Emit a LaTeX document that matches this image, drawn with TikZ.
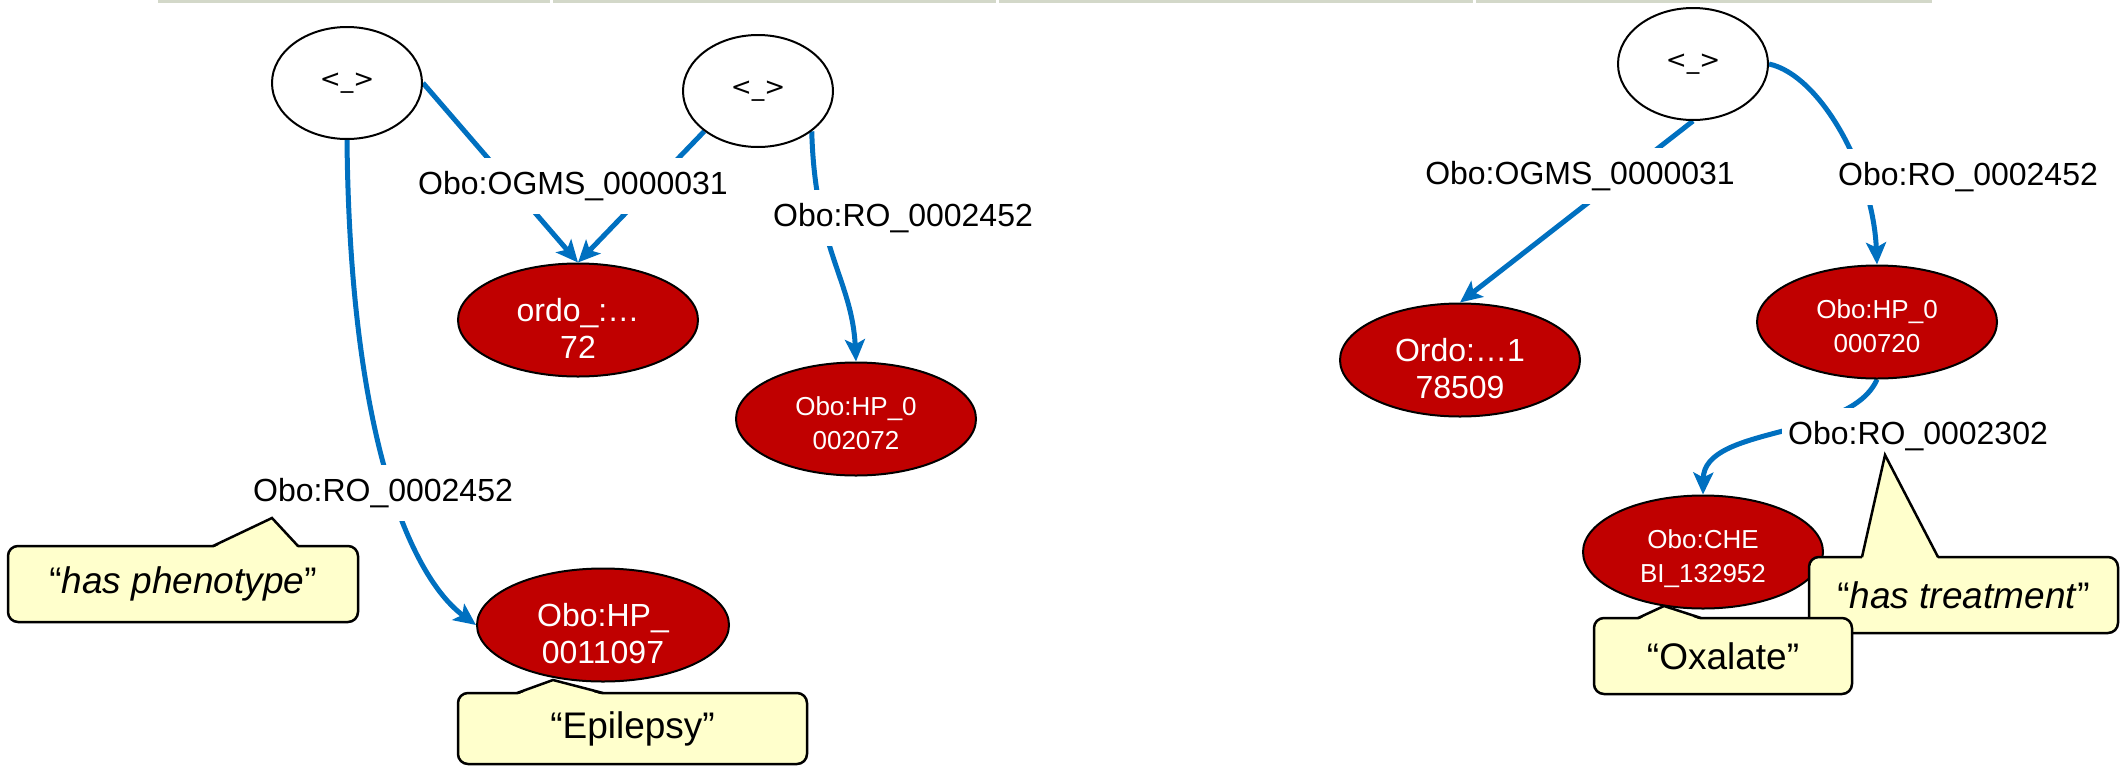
\documentclass[tikz,border=0pt]{standalone}
\usepackage{fontspec}
\setmainfont{Liberation Sans}
\newfontfamily\symfont{DejaVu Sans}
\usetikzlibrary{shapes.geometric, arrows.meta, backgrounds}
\definecolor{linkblue}{HTML}{0070C0}
\definecolor{termred}{HTML}{C00000}
\definecolor{notefill}{HTML}{FFFFCC}
\definecolor{rulegrey}{RGB}{211,216,201}

\begin{document}
\begin{tikzpicture}[x=1pt, y=-1pt,
  blank/.style={ellipse, draw=black, line width=2pt, fill=white,
    minimum width=150pt, minimum height=112pt, inner sep=0pt,
    font=\symfont\fontsize{25}{30}\selectfont},
  term/.style={ellipse, draw=black, line width=2pt, fill=termred, text=white,
    minimum width=240pt, minimum height=113pt, inner sep=0pt, align=center},
  bigterm/.style={term, font=\fontsize{32}{37}\selectfont,
    text height=76pt, text depth=0pt},
  smallterm/.style={term, font=\fontsize{26}{34}\selectfont,
    text height=60pt, text depth=0pt},
  prop/.style={fill=white, font=\fontsize{32}{38}\selectfont,
    inner xsep=6pt, inner ysep=13pt},
  link/.style={draw=linkblue, line width=5pt,
    -{Stealth[length=22pt, width=20pt, inset=5pt]}},
  note/.style={draw=black, line width=2.5pt, fill=notefill,
    rounded corners=10pt, inner sep=0pt, outer sep=0pt,
    font=\fontsize{37}{44}\selectfont},
  pointer/.style={draw=black, line width=2.5pt, line join=miter},
]
\useasboundingbox (0,0) rectangle (2121,766);

% ruled strip along the top edge
\fill[rulegrey] (158,0) rectangle (550,3);
\fill[rulegrey] (553,0) rectangle (996,3);
\fill[rulegrey] (999,0) rectangle (1473,3);
\fill[rulegrey] (1476,0) rectangle (1932,3);

% blank nodes
\node[blank] (b1) at (347,83) {<\_>};
\node[blank] (b2) at (758,91) {<\_>};
\node[blank] (b3) at (1693,64) {<\_>};

% resources
\node[bigterm]   (ordo72)  at (578,320)  {ordo\_:…\\72};
\node[smallterm] (hp2072)  at (856,419)  {Obo:HP\_0\\002072};
\node[bigterm, minimum width=252pt] (hp11097) at (603,625) {Obo:HP\_\\0011097};
\node[bigterm]   (ordo509) at (1460,360) {Ordo:…1\\78509};
\node[smallterm] (hp720)   at (1877,322) {Obo:HP\_0\\000720};
\node[smallterm] (chebi)   at (1703,552) {Obo:CHE\\BI\_132952};

% property labels
\node[prop] (ogmsA) at (573,186)  {Obo:OGMS\_0000031};
\node[prop] (roA)   at (903,218)  {Obo:RO\_0002452};
\node[prop] (roB)   at (383,493)  {Obo:RO\_0002452};
\node[prop] (ogmsB) at (1580,176) {Obo:OGMS\_0000031};
\node[prop] (roC)   at (1968,177) {Obo:RO\_0002452};
\node[prop] (roD)   at (1918,436) {Obo:RO\_0002302};

% links, kept underneath the labels
\begin{scope}[on background layer]
  \draw[link] (b1.east) -- (ordo72.north);
  \draw[link] (b2.south west) -- (ordo72.north);
  \draw[link] (b2.south east) .. controls (815,250) and (852,280) .. (hp2072.north);
  \draw[link] (b1.south) .. controls (350,450) and (415,580) .. (hp11097.west);
  \draw[link] (b3.south) -- (ordo509.north);
  \draw[link] (b3.east) .. controls (1820,75) and (1873,170) .. (hp720.north);
  \draw[link] (hp720.south) .. controls (1850,440) and (1704,425) .. (chebi.north);
\end{scope}

% notes
\node[note, minimum width=350pt, minimum height=76pt] (phenonote) at (183,584)
  {“\textit{has phenotype}”};
\coordinate (phenotip) at (272,518);
\fill[notefill] ([xshift=205pt, yshift=-2pt]phenonote.north west) -- (phenotip)
  -- ([xshift=290pt, yshift=-2pt]phenonote.north west) -- cycle;
\draw[pointer] ([xshift=205pt]phenonote.north west) -- (phenotip)
  -- ([xshift=290pt]phenonote.north west);

\node[note, minimum width=349pt, minimum height=71pt] (epinote) at (632.5,728.5)
  {“Epilepsy”};
\coordinate (epitip) at (553,680);
\fill[notefill] ([xshift=59pt, yshift=-2pt]epinote.north west) -- (epitip)
  -- ([xshift=145pt, yshift=-2pt]epinote.north west) -- cycle;
\draw[pointer] ([xshift=59pt]epinote.north west) -- (epitip)
  -- ([xshift=145pt]epinote.north west);

\node[note, minimum width=309pt, minimum height=76pt] (treatnote) at (1963.5,595)
  {“\textit{has treatment}”};
\coordinate (treattip) at (1885,455);
\fill[notefill] ([xshift=53pt, yshift=-2pt]treatnote.north west) -- (treattip)
  -- ([xshift=129pt, yshift=-2pt]treatnote.north west) -- cycle;
\draw[pointer] ([xshift=53pt]treatnote.north west) -- (treattip)
  -- ([xshift=129pt]treatnote.north west);

\node[note, minimum width=258pt, minimum height=76pt] (oxnote) at (1723,656)
  {“Oxalate”};
\coordinate (oxtip) at (1664,606);
\fill[notefill] ([xshift=44pt, yshift=-2pt]oxnote.north west) -- (oxtip)
  -- ([xshift=107pt, yshift=-2pt]oxnote.north west) -- cycle;
\draw[pointer] ([xshift=44pt]oxnote.north west) -- (oxtip)
  -- ([xshift=107pt]oxnote.north west);
\end{tikzpicture}
\end{document}
